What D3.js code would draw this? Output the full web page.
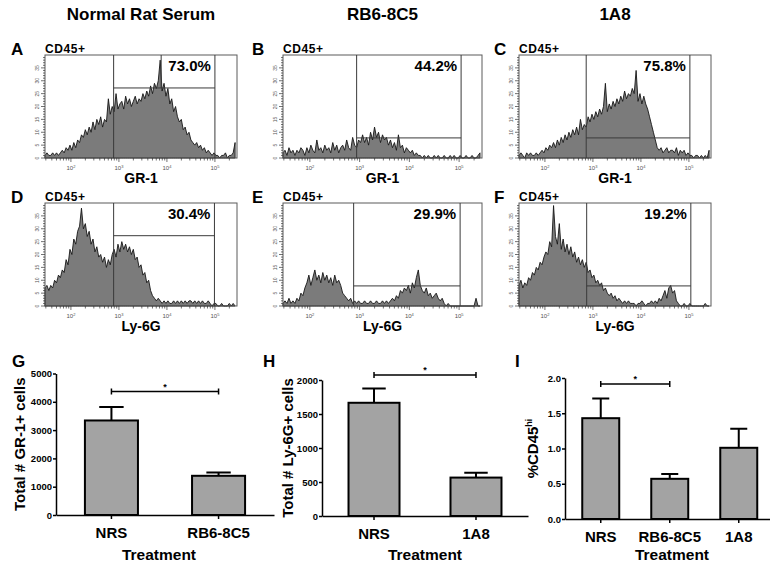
<!DOCTYPE html>
<meta charset="utf-8">
<style>
    body { margin: 0; background: #fff; }
    svg { font-family: "Liberation Sans", Arial, Helvetica, sans-serif; }
    .frame { fill: none; stroke: #5a5a5a; stroke-width: 1; }
    .gate { fill: none; stroke: #3a3a3a; stroke-width: 1; }
    .hist { fill: #7b7b7b; stroke: #161616; stroke-width: 0.9; stroke-linejoin: miter; }
    .htick { stroke: #333; stroke-width: 0.7; }
    .hlabel { font-size: 5px; fill: #555; }
    .bold { font-weight: bold; fill: #000; }
    .bar { fill: #a3a3a3; stroke: #000; stroke-width: 2; }
    .err { stroke: #000; stroke-width: 2; fill: none; }
    .axis path, .axis line { stroke: #000; stroke-width: 1.5; }
    .axis text { font-weight: bold; fill: #000; }
</style>
<body>
<script src="https://cdn.jsdelivr.net/npm/d3@7"></script>
<script>

    // flow histograms: counts per bin, bin centres in log10 units
    var binLo = 1.46, binStep = 0.04;

    var histA = [1,2,1,1,2,1,2,1,2,3, 2,4,3,5,3,6,4,7,6,9, 8,11,9,12,10,14,11,15,13,16,
        12,15,14,23,17,20,18,25,19,21, 22,19,24,21,23,20,22,24,21,23, 22,25,23,26,24,28,25,29,27,30,
        38,26,29,24,27,21,23,18,20,16, 14,15,11,12,9,10,7,6,5,6, 4,5,3,4,2,3,2,1,2,1, 1,0,1,1,2,0,1,1,2,6];
    var histB = [2,3,1,4,2,3,1,3,2,4, 3,1,4,2,5,3,2,7,3,4, 2,5,3,4,2,6,3,5,2,4,
        5,3,7,4,3,8,5,4,7,6, 9,6,8,5,10,7,12,8,10,6, 9,7,8,5,7,4,6,3,9,4,
        5,2,4,3,2,3,1,2,1,1, 0,1,0,1,0,0,1,0,1,0, 0,1,0,0,1,0,1,0,0,1, 0,0,1,0,0,1,0,0,1,2];
    var histC = [1,2,1,0,2,1,2,1,1,2, 1,2,3,2,4,3,5,4,6,4, 7,5,8,6,9,7,10,8,11,9,
        12,9,15,11,13,12,16,14,17,15, 18,16,19,17,20,29,18,21,19,22, 20,23,21,24,22,26,23,25,24,27,
        25,34,22,25,21,24,21,19,16,13, 10,7,4,3,4,2,3,4,2,3, 3,2,4,1,3,2,3,1,2,1, 1,0,1,1,0,1,0,1,0,3];
    var histD = [7,8,6,8,7,10,9,12,11,14, 13,18,16,22,20,26,24,29,31,38, 30,32,27,29,24,26,21,23,19,20,
        17,19,15,18,16,20,22,19,24,21, 25,22,24,21,23,20,22,18,19,15, 16,12,13,9,10,6,4,3,2,3,
        2,1,2,1,2,1,1,2,1,2, 1,2,1,2,1,2,2,1,2,1, 2,1,2,1,1,2,1,0,1,1, 0,0,1,0,0,0,1,0,1,0];
    var histE = [1,2,1,3,1,2,1,3,2,5, 4,7,9,12,8,11,14,10,12,9, 13,10,12,9,11,8,12,9,10,8,
        5,4,3,2,3,1,2,1,2,1, 1,2,1,1,2,1,1,2,1,1, 2,1,2,1,2,3,2,4,3,6,
        5,7,6,8,5,9,7,11,14,8, 6,5,7,4,5,3,4,5,3,2, 3,1,0,1,0,0,0,0,0,0, 0,0,0,0,0,0,0,3,0,0];
    var histF = [8,10,7,9,8,11,10,13,12,15, 14,17,16,19,21,20,25,23,39,27, 24,32,22,26,21,24,20,23,19,21,
        17,19,16,18,15,17,13,14,11,12, 9,10,8,9,6,7,5,4,5,3, 4,2,3,2,1,2,1,2,1,1,
        1,0,1,1,2,1,0,1,1,2, 1,2,1,3,2,4,6,3,7,8, 5,6,2,1,0,0,1,0,0,1, 0,0,0,0,0,0,0,1,0,0];

    var columnTitles = ["Normal Rat Serum", "RB6-8C5", "1A8"];
    var panelLetters = ["A", "B", "C", "D", "E", "F"];
    var rowMarkers = ["GR-1", "Ly-6G"];
    var gatedPop = "CD45+";
    var percents = ["73.0%", "44.2%", "75.8%", "30.4%", "29.9%", "19.2%"];
    var gateLo = [2.89, 2.94, 2.86, 2.89, 2.88, 2.87];
    var gateHi = [5.00, 5.04, 5.02, 4.99, 5.02, 5.04];
    var gateCount = [27.2, 7.8, 7.8, 27.3, 7.8, 7.8];
    var labelEdge = [3.88, null, null, null, null, null];
    var countTicks = d3.range(0, 40);
    var decades = [2, 3, 4, 5];

    // bar charts
    var catsG = ["NRS", "RB6-8C5"], meanG = [3340, 1385], topG = [3820, 1500];
    var catsH = ["NRS", "1A8"], meanH = [1665, 565], topH = [1875, 637];
    var catsI = ["NRS", "RB6-8C5", "1A8"], meanI = [1.43, 0.57, 1.01], topI = [1.71, 0.64, 1.28];
    var ticksG = [0, 1000, 2000, 3000, 4000, 5000];
    var ticksH = [0, 500, 1000, 1500, 2000];
    var ticksI = [0, 0.5, 1.0, 1.5, 2.0];
    var sigG = [0, 1, 4360], sigH = [0, 1, 2074], sigI = [0, 1, 1.915];

    var colX = [[45, 237], [283, 482], [519, 711]],
        rowY = [[55, 158], [203, 306]],
        letterX = [11, 252, 494];

    var svg = d3.select("body").append("svg")
            .attr("width", 770)
            .attr("height", 570);

    columnTitles.forEach(function(t, c) {
        svg.append("text").attr("class", "bold")
            .attr("x", (colX[c][0] + colX[c][1]) / 2).attr("y", 20)
            .attr("text-anchor", "middle").style("font-size", "17px")
            .text(t);
    });

    [histA, histB, histC, histD, histE, histF].forEach(function(counts, p) {
        var col = p % 3, row = Math.floor(p / 3);
        var x = d3.scaleLinear().domain([1.46, 5.46]).range(colX[col]);
        var y = d3.scaleLinear().domain([0, 40]).range([rowY[row][1], rowY[row][0]]);
        var g = svg.append("g");
        var bins = counts.map(function(c, i) { return {v: binLo + i * binStep, c: c}; });

        g.append("path").datum(bins).attr("class", "hist")
            .attr("d", d3.area().x(function(d) { return x(d.v); }).y0(y(0)).y1(function(d) { return y(d.c); }));

        g.append("rect").attr("class", "frame")
            .attr("x", x.range()[0]).attr("y", y.range()[1])
            .attr("width", x.range()[1] - x.range()[0]).attr("height", y.range()[0] - y.range()[1]);

        // gate
        g.append("line").attr("class", "gate")
            .attr("x1", x(gateLo[p])).attr("x2", x(gateLo[p])).attr("y1", y(0)).attr("y2", y(40));
        g.append("line").attr("class", "gate")
            .attr("x1", x(gateHi[p])).attr("x2", x(gateHi[p])).attr("y1", y(0)).attr("y2", y(40));
        g.append("line").attr("class", "gate")
            .attr("x1", x(gateLo[p])).attr("x2", x(gateHi[p])).attr("y1", y(gateCount[p])).attr("y2", y(gateCount[p]));
        if (labelEdge[p] != null) {
            g.append("line").attr("class", "gate")
                .attr("x1", x(labelEdge[p])).attr("x2", x(labelEdge[p])).attr("y1", y(40)).attr("y2", y(gateCount[p]));
        }

        // count axis
        g.selectAll("line.yt").data(countTicks).enter().append("line").attr("class", "htick")
            .attr("x1", x.range()[0]).attr("x2", function(d) { return x.range()[0] - (d % 5 ? 2 : 4); })
            .attr("y1", function(d) { return y(d); }).attr("y2", function(d) { return y(d); });
        g.selectAll("text.yl").data(countTicks.filter(function(d) { return d % 5 === 0; })).enter()
            .append("text").attr("class", "hlabel").attr("text-anchor", "middle")
            .attr("transform", function(d) { return "translate(" + (x.range()[0] - 6) + "," + y(d) + ") rotate(-90)"; })
            .text(function(d) { return d; });

        // log axis
        var minor = [];
        [1, 2, 3, 4, 5].forEach(function(d) {
            d3.range(1, 10).forEach(function(k) {
                var v = d + Math.log10(k);
                if (v >= 1.46 && v <= 5.46) minor.push({v: v, major: k === 1});
            });
        });
        g.selectAll("line.xt").data(minor).enter().append("line").attr("class", "htick")
            .attr("x1", function(d) { return x(d.v); }).attr("x2", function(d) { return x(d.v); })
            .attr("y1", y(0)).attr("y2", function(d) { return y(0) + (d.major ? 4 : 2.5); });
        var xl = g.selectAll("text.xl").data(decades).enter().append("text").attr("class", "hlabel")
            .attr("x", function(d) { return x(d); }).attr("y", y(0) + 12).attr("text-anchor", "middle")
            .style("font-size", "6px");
        xl.append("tspan").text("10");
        xl.append("tspan").attr("dy", -2.5).style("font-size", "4px").text(function(d) { return d; });

        // texts
        g.append("text").attr("class", "bold").attr("x", letterX[col]).attr("y", y(40))
            .style("font-size", "17px").text(panelLetters[p]);
        g.append("text").attr("class", "bold").attr("x", x.range()[0]).attr("y", y(40) - 2)
            .style("font-size", "12px").style("letter-spacing", "0.6px").text(gatedPop);
        g.append("text").attr("class", "bold").attr("x", x(gateHi[p]) - 4).attr("y", y(40) + 16)
            .attr("text-anchor", "end").style("font-size", "15px").text(percents[p]);
        g.append("text").attr("class", "bold").attr("x", (x.range()[0] + x.range()[1]) / 2)
            .attr("y", y(0) + 25).attr("text-anchor", "middle").style("font-size", "14px")
            .text(rowMarkers[row]);
    });

    function barChart(o) {
        var x = d3.scaleBand().domain(o.cats).range(o.xr).paddingInner(o.pi).paddingOuter(o.po);
        var y = d3.scaleLinear().domain([0, o.ticks[o.ticks.length - 1]]).range(o.yr);
        var g = svg.append("g");
        var bw = x.bandwidth();

        g.selectAll("rect.bar").data(o.cats).enter().append("rect").attr("class", "bar")
            .attr("x", function(d) { return x(d); })
            .attr("y", function(d, i) { return y(o.mean[i]); })
            .attr("width", bw)
            .attr("height", function(d, i) { return y(0) - y(o.mean[i]); });

        g.selectAll("path.err").data(o.cats).enter().append("path").attr("class", "err")
            .attr("d", function(d, i) {
                var cx = x(d) + bw / 2, c = bw * 0.23;
                return "M" + cx + "," + y(o.mean[i]) + "V" + y(o.top[i]) +
                    "M" + (cx - c) + "," + y(o.top[i]) + "H" + (cx + c);
            });

        var ya = g.append("g").attr("class", "axis")
            .attr("transform", "translate(" + o.xr[0] + ",0)")
            .call(d3.axisLeft(y).tickValues(o.ticks).tickSize(3).tickPadding(1).tickSizeOuter(0).tickFormat(o.fmt));
        ya.selectAll("text").style("font-size", "9.5px");

        var xa = g.append("g").attr("class", "axis")
            .attr("transform", "translate(0," + y(0) + ")")
            .call(d3.axisBottom(x).tickSize(4).tickPadding(8).tickSizeOuter(0));
        xa.selectAll("text").style("font-size", "15px");

        // significance bar
        var s0 = x(o.cats[o.sig[0]]) + bw / 2, s1 = x(o.cats[o.sig[1]]) + bw / 2, sy = y(o.sig[2]);
        g.append("path").attr("class", "err").style("stroke-width", 1.5)
            .attr("d", "M" + s0 + "," + (sy - 3) + "V" + (sy + 3) + "M" + s0 + "," + sy + "H" + s1 +
                "M" + s1 + "," + (sy - 3) + "V" + (sy + 3));
        g.append("text").attr("class", "bold").attr("x", (s0 + s1) / 2).attr("y", sy - 2)
            .attr("text-anchor", "middle").style("font-size", "9px").text("*");

        g.append("text").attr("class", "bold").attr("x", o.titleX).attr("y", 560)
            .attr("text-anchor", "middle").style("font-size", "15.5px").text("Treatment");

        var yt = g.append("text").attr("class", "bold").attr("text-anchor", "middle")
            .attr("transform", "translate(" + o.ytX + "," + (o.yr[0] + o.yr[1]) / 2 + ") rotate(-90)")
            .style("font-size", "15px");
        yt.append("tspan").text(o.ytitle);
        if (o.ysup) yt.append("tspan").attr("dy", -6).style("font-size", "9px").text(o.ysup);

        g.append("text").attr("class", "bold").attr("x", o.letterX).attr("y", 367)
            .style("font-size", "17px").text(o.letter);
    }

    barChart({cats: catsG, mean: meanG, top: topG, ticks: ticksG, sig: sigG, fmt: d3.format("d"),
        xr: [56, 274], yr: [515, 373.5], pi: 0.505, po: 0.27, titleX: 159, ytX: 25,
        ytitle: "Total # GR-1+ cells", letter: "G", letterX: 12});
    barChart({cats: catsH, mean: meanH, top: topH, ticks: ticksH, sig: sigH, fmt: d3.format("d"),
        xr: [322, 528], yr: [516, 380], pi: 0.5, po: 0.26, titleX: 425, ytX: 293,
        ytitle: "Total # Ly-6G+ cells", letter: "H", letterX: 263});
    barChart({cats: catsI, mean: meanI, top: topI, ticks: ticksI, sig: sigI, fmt: d3.format(".1f"),
        xr: [565, 774.5], yr: [519, 378], pi: 0.464, po: 0.25, titleX: 672, ytX: 538,
        ytitle: "%CD45", ysup: "hi", letter: "I", letterX: 515});

</script>
